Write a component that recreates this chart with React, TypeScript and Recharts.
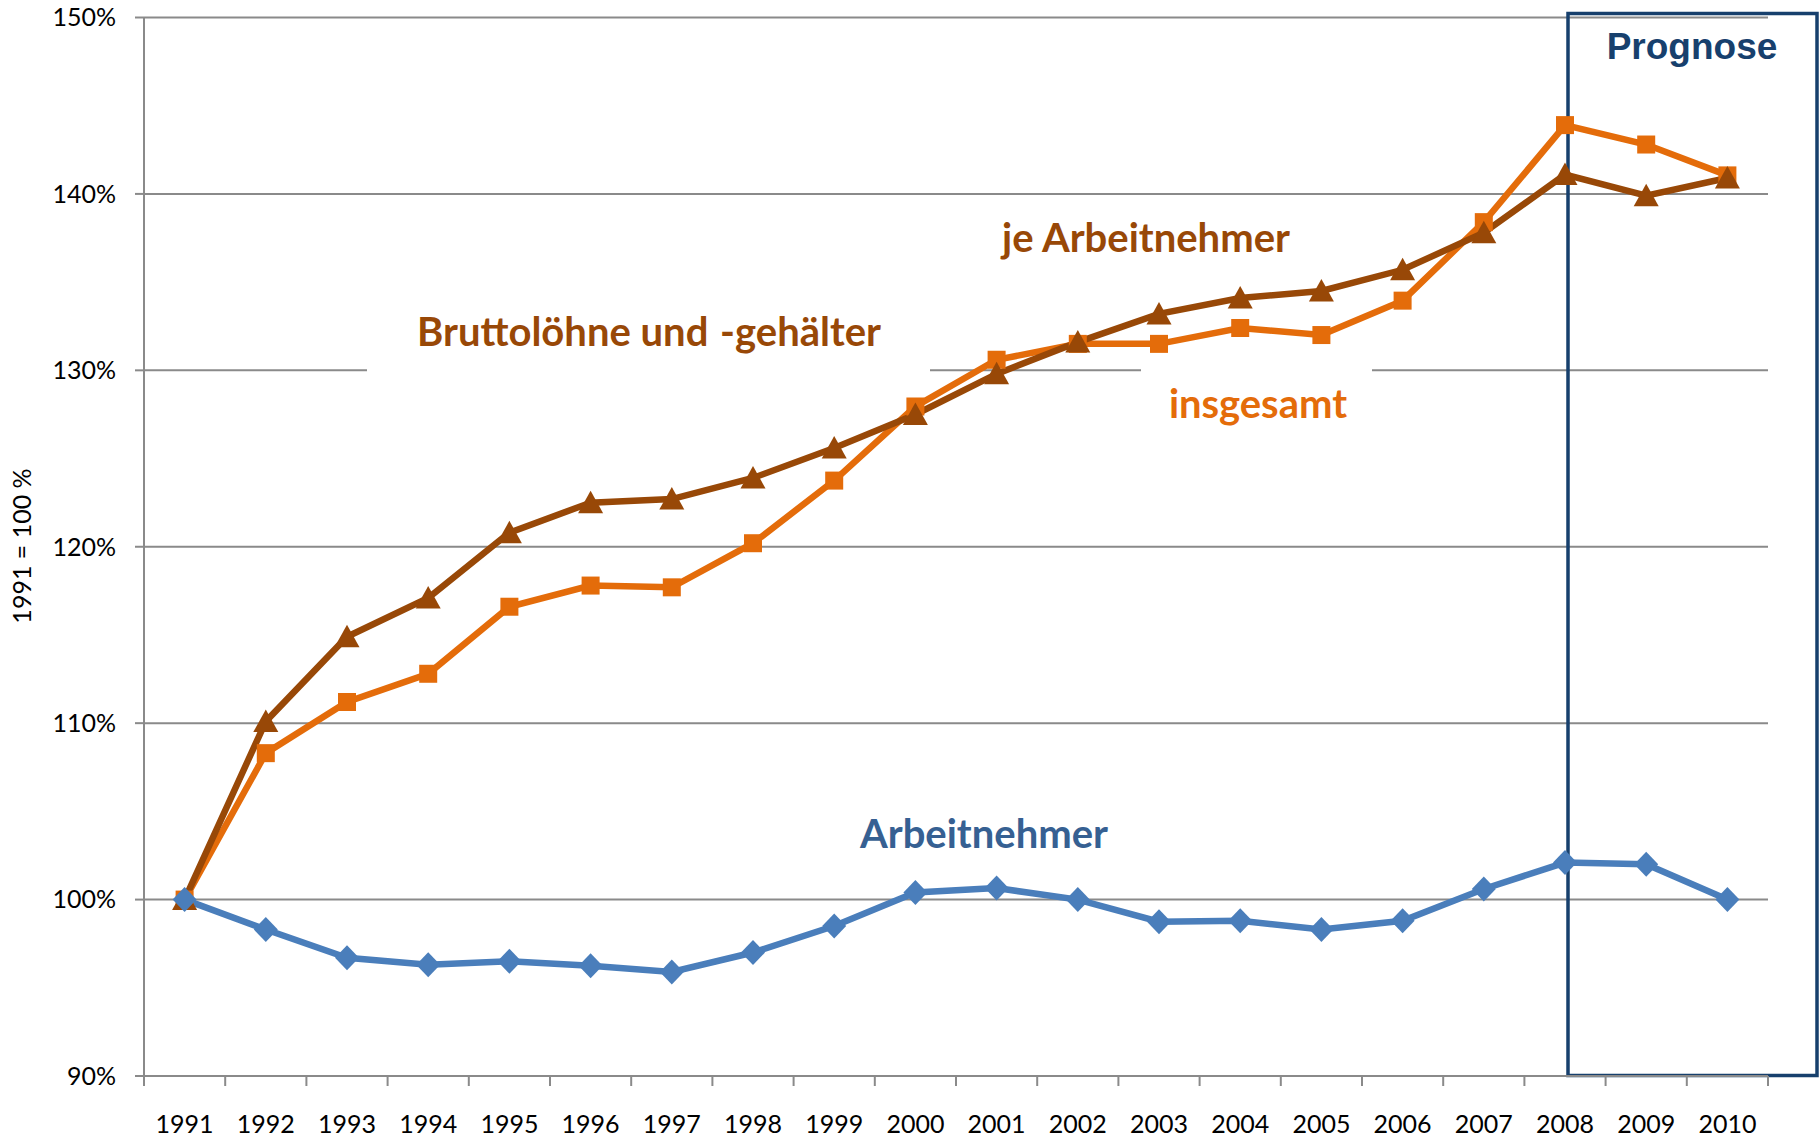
import React from 'react';
import { LineChart, Line, XAxis, YAxis, CartesianGrid, Customized } from 'recharts';

const years = ['1991','1992','1993','1994','1995','1996','1997','1998','1999','2000','2001','2002','2003','2004','2005','2006','2007','2008','2009','2010'];
const arbeitnehmer = [100, 98.3, 96.7, 96.3, 96.5, 96.25, 95.9, 97.0, 98.5, 100.4, 100.65, 100.0, 98.75, 98.8, 98.3, 98.8, 100.6, 102.1, 102.0, 100.0];
const jeArbeitnehmer = [100, 110.1, 114.9, 117.1, 120.8, 122.5, 122.7, 123.9, 125.6, 127.5, 129.8, 131.6, 133.2, 134.1, 134.5, 135.7, 137.8, 141.1, 139.9, 140.9];
const insgesamt = [100, 108.3, 111.2, 112.8, 116.6, 117.8, 117.7, 120.2, 123.75, 127.95, 130.6, 131.5, 131.5, 132.4, 132.0, 133.95, 138.4, 143.9, 142.8, 141.05];
const yTicks = [90, 100, 110, 120, 130, 140, 150];

const data = years.map((y, i) => ({ year: y, arbeitnehmer: arbeitnehmer[i], je: jeArbeitnehmer[i], insgesamt: insgesamt[i] }));

const W = 1820;
const H = 1139;
const M = { top: 17.5, right: 52, bottom: 0, left: 0 };
const YW = 144;
const XH = 63;
const PLOT_W = W - M.left - M.right - YW;
const BAND = PLOT_W / years.length;
const AXIS_C = '#8a8a8a';
const FONT = 'Lato, "Open Sans", sans-serif';

const BLUE = '#4A7EBB';
const BROWN = '#984807';
const ORANGE = '#E46C0A';
const NAVY = '#17406D';

const Diamond = (p: any) => {
  const { cx, cy } = p;
  if (cx == null || cy == null) return null;
  return <path key={`d${p.index}`} d={`M${cx},${cy - 12.5}L${cx + 12},${cy}L${cx},${cy + 12.5}L${cx - 12},${cy}Z`} fill={BLUE} />;
};
const Square = (p: any) => {
  const { cx, cy } = p;
  if (cx == null || cy == null) return null;
  return <rect key={`s${p.index}`} x={cx - 9} y={cy - 9} width={18} height={18} fill={ORANGE} />;
};
const Triangle = (p: any) => {
  const { cx, cy } = p;
  if (cx == null || cy == null) return null;
  return <path key={`t${p.index}`} d={`M${cx},${cy - 12}L${cx + 12.5},${cy + 10.5}L${cx - 12.5},${cy + 10.5}Z`} fill={BROWN} />;
};

const XTick = (p: any) => {
  const { x, y, payload, index } = p;
  return (
    <g>
      <line x1={x - BAND / 2} x2={x - BAND / 2} y1={y} y2={y + 10} stroke={AXIS_C} strokeWidth={2} />
      {index === years.length - 1 && (
        <line x1={x + BAND / 2} x2={x + BAND / 2} y1={y} y2={y + 10} stroke={AXIS_C} strokeWidth={2} />
      )}
      <text x={x} y={y + 57} textAnchor="middle" fontSize={25} fontFamily={FONT} fill="#000">{payload.value}</text>
    </g>
  );
};

const Annotations = () => (
  <g>
    <rect x={367} y={300} width={563} height={80} fill="#fff" />
    <rect x={1141} y={360} width={231} height={80} fill="#fff" />
    <text x={649} y={346} textAnchor="middle" fontSize={40} fontWeight={700} fontFamily={FONT} fill={BROWN}>
      Bruttolöhne und <tspan dx={2}>-gehälter</tspan>
    </text>
    <text x={1146} y={252} textAnchor="middle" fontSize={40} fontWeight={700} fontFamily={FONT} fill={BROWN}>je Arbeitnehmer</text>
    <text x={1258} y={418} textAnchor="middle" fontSize={40} fontWeight={700} fontFamily={FONT} fill={ORANGE}>insgesamt</text>
    <text x={984} y={848} textAnchor="middle" fontSize={40} fontWeight={700} fontFamily={FONT} fill="#366092">Arbeitnehmer</text>
    <rect x={1568} y={13.5} width={249} height={1062} fill="none" stroke={NAVY} strokeWidth={3.5} />
    <text x={1692} y={59} textAnchor="middle" fontSize={37} fontWeight={700} fontFamily='"Liberation Sans", Arial, sans-serif' fill={NAVY}>Prognose</text>
    <text x={0} y={0} transform="translate(31,546) rotate(-90)" textAnchor="middle" fontSize={25} fontFamily={FONT} fill="#000">1991 = 100 %</text>
  </g>
);

export default function App() {
  return (
    <div style={{ position: 'absolute', left: 0, top: 0, width: W, height: H, background: '#fff' }}>
      <LineChart width={W} height={H} data={data} margin={M}>
        <CartesianGrid horizontal vertical={false} stroke={AXIS_C} strokeWidth={2} />
        <XAxis
          dataKey="year"
          scale="band"
          height={XH}
          interval={0}
          tickLine={false}
          tickSize={0}
          tickMargin={0}
          axisLine={{ stroke: AXIS_C, strokeWidth: 2 }}
          tick={<XTick />}
        />
        <YAxis
          width={YW}
          domain={[90, 150]}
          ticks={yTicks}
          interval={0}
          tickFormatter={(v: number) => `${v}%`}
          tickSize={9}
          tickMargin={19}
          tickLine={{ stroke: AXIS_C, strokeWidth: 2 }}
          axisLine={{ stroke: AXIS_C, strokeWidth: 2 }}
          tick={{ fontSize: 25, fontFamily: FONT, fill: '#000' }}
        />
        <Line dataKey="insgesamt" stroke={ORANGE} strokeWidth={6.5} dot={Square} isAnimationActive={false} />
        <Line dataKey="je" stroke={BROWN} strokeWidth={6.5} dot={Triangle} isAnimationActive={false} />
        <Line dataKey="arbeitnehmer" stroke={BLUE} strokeWidth={6.5} dot={Diamond} isAnimationActive={false} />
        <Customized component={Annotations} />
      </LineChart>
    </div>
  );
}
